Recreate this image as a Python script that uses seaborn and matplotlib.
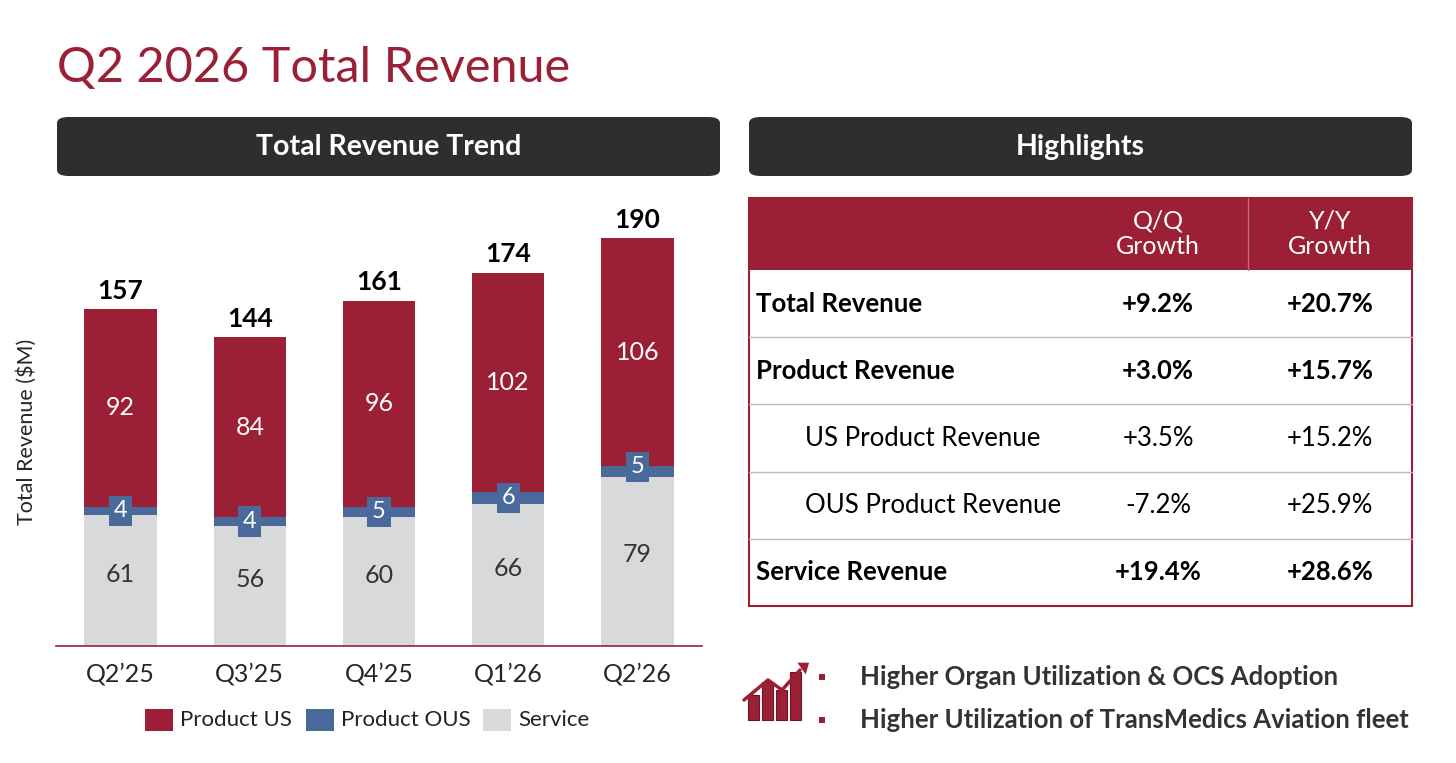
import matplotlib
matplotlib.use("Agg")
import matplotlib.pyplot as plt
import seaborn as sns
import pandas as pd
from matplotlib.patches import FancyBboxPatch, Rectangle, Polygon

quarters = ["Q2\u201925", "Q3\u201925", "Q4\u201925", "Q1\u201926", "Q2\u201926"]
service = [61, 56, 60, 66, 79]
product_ous = [4, 4, 5, 6, 5]
product_us = [92, 84, 96, 102, 106]
totals = [157, 144, 161, 174, 190]

rows = ["Total Revenue", "Product Revenue", "US Product Revenue", "OUS Product Revenue", "Service Revenue"]
qq = ["+9.2%", "+3.0%", "+3.5%", "-7.2%", "+19.4%"]
yy = ["+20.7%", "+15.7%", "+15.2%", "+25.9%", "+28.6%"]
bold_rows = [True, True, False, False, True]

RED = "#9B1F35"
BLUE = "#4A6A9B"
GRAY = "#D8D9DB"
DARK = "#2E2E2E"

sns.set_style("white")
plt.rcParams["font.family"] = ["Lato", "DejaVu Sans"]

W, H = 1456, 763
fig = plt.figure(figsize=(W / 100, H / 100), dpi=100)


def fx(x):
    return x / W


def fy(y):
    return 1 - y / H


def ftext(x, y, s, **kw):
    fig.text(fx(x), fy(y), s, **kw)


# title
ftext(57, 68, "Q2 2026 Total Revenue", color=RED, fontsize=35, va="center", ha="left")

# header boxes
for x0, x1, label in [(57, 720, "Total Revenue Trend"), (749, 1412, "Highlights")]:
    fig.patches.append(FancyBboxPatch((fx(x0), fy(176)), fx(x1 - x0), (176 - 117) / H,
                                      boxstyle="round,pad=0,rounding_size=0.008",
                                      transform=fig.transFigure, facecolor=DARK, edgecolor="none"))
    ftext((x0 + x1) / 2, 147, label, color="white", fontsize=20.5, fontweight="bold", ha="center", va="center")

# chart
ax = fig.add_axes([fx(56), fy(646), fx(646), (646 - 217) / H])
df = pd.DataFrame({"q": quarters, "service": service, "ous": product_ous, "us": product_us})
bw = 0.56
sns.barplot(data=df, x="q", y="service", color=GRAY, width=bw, ax=ax, saturation=1, linewidth=0)
sns.barplot(data=df, x="q", y="ous", color=BLUE, width=bw, ax=ax, saturation=1, linewidth=0,
            bottom=df["service"])
sns.barplot(data=df, x="q", y="us", color=RED, width=bw, ax=ax, saturation=1, linewidth=0,
            bottom=df["service"] + df["ous"])
ax.set_ylim(0, 200)
ax.set_xlim(-0.5, 4.5)
for i in range(len(quarters)):
    s, o, u = service[i], product_ous[i], product_us[i]
    ax.text(i, s / 2 + 3, str(s), ha="center", va="center", fontsize=18, color="#333333")
    ax.text(i, s + o / 2 + 2 if i == 4 else s + o / 2, str(o), ha="center", va="center", fontsize=17,
            color="white", bbox=dict(boxstyle="square,pad=0.2", facecolor=BLUE, edgecolor="none"))
    ax.text(i, s + o + u / 2, str(u), ha="center", va="center", fontsize=18, color="white")
    ax.text(i, totals[i] + 3, str(totals[i]), ha="center", va="bottom", fontsize=19,
            fontweight="bold", color="black")
ax.set_xlabel("")
ax.set_ylabel("Total Revenue ($M)", fontsize=15.5, labelpad=14)
ax.set_yticks([])
ax.tick_params(axis="x", labelsize=18, length=0, pad=12)
for side in ["top", "right", "left"]:
    ax.spines[side].set_visible(False)
ax.spines["bottom"].set_color(RED)
ax.spines["bottom"].set_linewidth(1.2)

# legend
lx = 145
for label, col, w in [("Product US", RED, 161), ("Product OUS", BLUE, 177), ("Service", GRAY, 120)]:
    fig.patches.append(Rectangle((fx(lx), fy(731)), fx(28), 22 / H, transform=fig.transFigure,
                                 facecolor=col, edgecolor="none"))
    ftext(lx + 35, 720, label, fontsize=16, va="center", ha="left", color="#222222")
    lx += w

# table
tx0, tx1 = 749, 1412
fig.patches.append(Rectangle((fx(tx0), fy(270)), fx(tx1 - tx0), (270 - 198) / H,
                             transform=fig.transFigure, facecolor=RED, edgecolor="none"))
fig.lines.append(plt.Line2D([fx(1248)] * 2, [fy(198), fy(270)], transform=fig.transFigure,
                            color="#C8687A", lw=1))
for cx, t in [(1158, "Q/Q\nGrowth"), (1330, "Y/Y\nGrowth")]:
    ftext(cx, 234, t, color="white", fontsize=18, ha="center", va="center", linespacing=1.15)
row_top = 270
rh = 67.2
for i, r in enumerate(rows):
    cy = row_top + rh * (i + 0.5)
    wt = "bold" if bold_rows[i] else "normal"
    ftext(756 if bold_rows[i] else 805, cy, r, fontsize=18.5, fontweight=wt, ha="left", va="center", color="black")
    ftext(1158, cy, qq[i], fontsize=18.5, fontweight=wt, ha="center", va="center", color="black")
    ftext(1330, cy, yy[i], fontsize=18.5, fontweight=wt, ha="center", va="center", color="black")
    if i > 0:
        y = row_top + rh * i
        fig.lines.append(plt.Line2D([fx(tx0), fx(tx1)], [fy(y)] * 2, transform=fig.transFigure,
                                    color="#BBBBBB", lw=1))
fig.patches.append(Rectangle((fx(tx0), fy(606)), fx(tx1 - tx0), (606 - 198) / H,
                             transform=fig.transFigure, facecolor="none", edgecolor=RED, lw=1.5))

# icon
for k, (bx, bh) in enumerate([(748, 25), (762, 38), (776, 30), (790, 48)]):
    fig.patches.append(Rectangle((fx(bx), fy(720)), fx(11), bh / H, transform=fig.transFigure,
                                 facecolor=RED, edgecolor="#6E1424", lw=0.8))
fig.lines.append(plt.Line2D([fx(744), fx(768), fx(782), fx(800)], [fy(700), fy(680), fy(690), fy(670)],
                            transform=fig.transFigure, color=RED, lw=2.5))
fig.patches.append(Polygon([(fx(796), fy(662)), (fx(810), fy(662)), (fx(806), fy(676))],
                           closed=True, transform=fig.transFigure, facecolor=RED))

# bullets
for by, t in [(677, "Higher Organ Utilization & OCS Adoption"),
              (720, "Higher Utilization of TransMedics Aviation fleet")]:
    fig.patches.append(Rectangle((fx(819), fy(by + 3)), fx(6), 6 / H, transform=fig.transFigure,
                                 facecolor=RED, edgecolor="none"))
    ftext(860, by, t, fontsize=18.5, fontweight="bold", ha="left", va="center", color="#333333")

fig.savefig("out.png", dpi=100, facecolor="white")
